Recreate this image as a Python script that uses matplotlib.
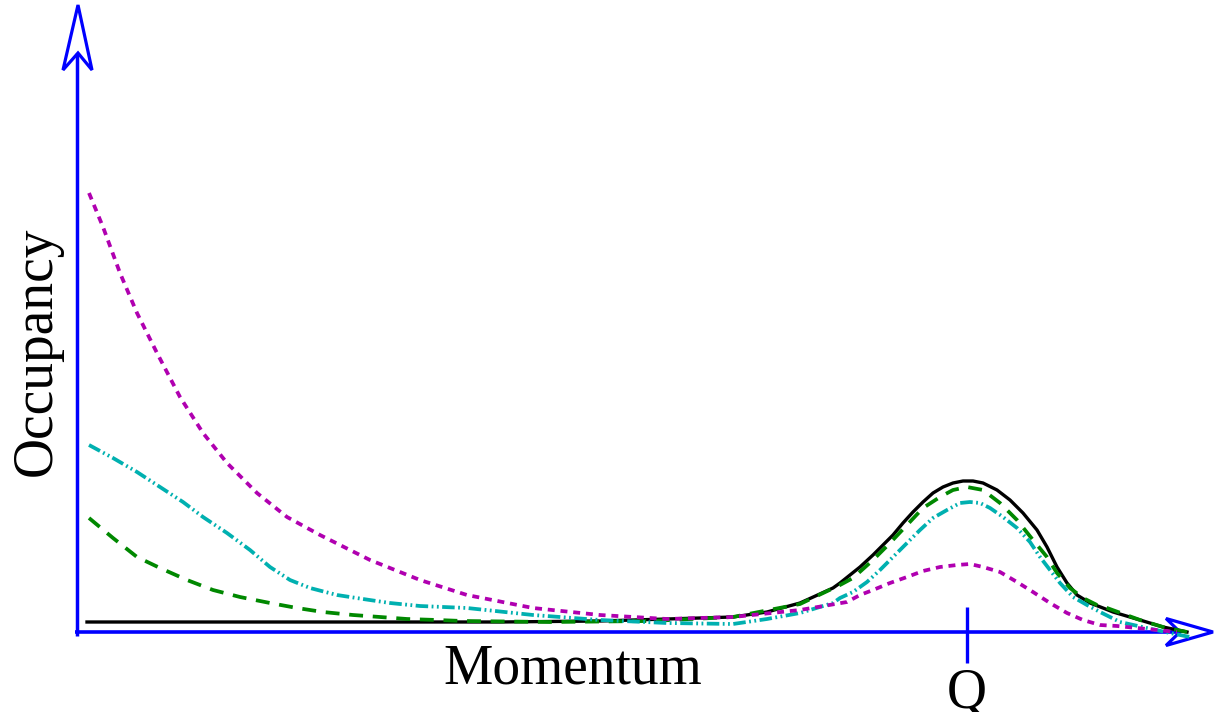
import matplotlib
matplotlib.use("Agg")
import matplotlib.pyplot as plt
from matplotlib.patches import Polygon

# ---- data (arbitrary units: momentum, occupancy) ----
q_position = 89.0
tick_label = "Q"
x_label = "Momentum"
y_label = "Occupancy"

black_x = [1.0, 22.3, 42.3, 52.3, 59.0, 65.6, 69.0, 72.3, 75.6, 76.3, 77.3, 78.3, 79.6, 80.6,
           81.6, 82.6, 83.6, 84.6, 85.6, 86.6, 87.6, 88.6, 89.6, 90.6, 92.0, 93.3, 94.6, 96.0,
           97.0, 98.0, 99.0, 100.0, 101.3, 102.6, 103.6, 106.3, 108.6, 111.0]
black_y = [1.0, 1.0, 1.0, 1.1, 1.3, 1.5, 2.0, 2.9, 4.4, 4.9, 5.7, 6.5, 7.7, 8.7,
           9.7, 10.9, 12.0, 13.0, 13.9, 14.5, 14.9, 15.1, 15.1, 14.9, 14.2, 13.2, 11.9, 10.2,
           8.5, 6.5, 4.9, 3.7, 2.9, 2.4, 2.0, 1.2, 0.5, 0.0]

green_x = [1.2, 3.6, 6.0, 8.3, 11.0, 13.6, 16.3, 19.3, 22.0, 24.6, 27.6, 30.3, 33.0, 36.0, 38.6,
           47.3, 57.3, 65.6, 72.3, 76.3, 77.6, 79.6, 81.3, 83.0, 84.6, 86.3, 87.6, 89.0, 90.6,
           92.3, 94.0, 95.6, 97.0, 98.0, 99.3, 100.6, 102.0, 103.0, 106.3, 108.6, 111.0]
green_y = [11.4, 9.4, 7.5, 6.4, 5.2, 4.2, 3.5, 2.9, 2.4, 2.0, 1.7, 1.5, 1.3, 1.2, 1.1,
           1.0, 1.1, 1.5, 2.8, 4.7, 5.4, 7.2, 8.9, 10.7, 12.4, 13.5, 14.2, 14.5, 14.2,
           12.9, 11.2, 9.2, 7.5, 5.9, 4.4, 3.4, 2.7, 2.4, 1.2, 0.5, 0.0]

cyan_x = [1.2, 3.6, 6.0, 8.3, 10.6, 12.6, 15.0, 17.3, 19.3, 21.3, 23.3, 26.0, 28.6, 31.3, 34.3,
          39.0, 45.6, 52.3, 59.0, 65.6, 69.0, 72.3, 75.6, 76.3, 77.6, 79.0, 80.3, 81.6, 83.0,
          84.3, 85.6, 87.0, 88.3, 89.3, 90.3, 91.3, 92.6, 94.0, 95.3, 96.3, 97.3, 98.3, 99.6,
          101.0, 102.3, 104.3, 107.0, 109.3, 111.3]
cyan_y = [18.7, 17.4, 16.0, 14.5, 13.0, 11.5, 9.9, 8.2, 6.5, 5.2, 4.4, 3.7, 3.3, 2.9, 2.6,
          2.4, 1.7, 1.2, 0.9, 0.8, 1.3, 1.9, 2.9, 3.4, 4.0, 5.0, 6.2, 7.5, 8.9,
          10.2, 11.4, 12.2, 12.9, 13.0, 12.9, 12.4, 11.5, 10.4, 9.0, 7.5, 6.2, 4.9, 3.5,
          2.7, 2.0, 1.0, 0.4, -0.1, -0.5]

magenta_x = [1.2, 2.6, 4.3, 6.0, 8.0, 10.3, 12.6, 15.0, 18.0, 21.0, 24.3, 29.3, 34.3, 39.0,
             45.6, 52.3, 59.0, 65.6, 72.3, 77.0, 78.3, 79.6, 81.3, 83.0, 84.6, 86.3, 88.0,
             89.3, 90.6, 92.3, 94.0, 95.6, 97.3, 99.0, 100.6, 102.3, 104.0, 107.0, 110.0]
magenta_y = [43.9, 40.5, 35.9, 31.9, 27.9, 23.5, 19.9, 16.9, 13.9, 11.5, 9.7, 7.2, 5.2, 3.7,
             2.4, 1.7, 1.3, 1.5, 2.2, 3.0, 3.7, 4.2, 4.9, 5.5, 6.1, 6.5, 6.7,
             6.8, 6.5, 6.0, 5.0, 4.0, 2.9, 1.9, 1.2, 0.7, 0.6, 0.3, 0.0]

plt.rcParams['lines.scale_dashes'] = False

fig = plt.figure(figsize=(12.14, 7.12), dpi=100)
ax = fig.add_axes([0, 0, 1, 1])
ax.set_xlim(-7.7, 113.7)
ax.set_ylim(-8.0, 63.2)
ax.axis('off')

blue = '#0000ff'
# axes lines
ax.plot([-0.2, 0, 110.3], [0, 0, 0], color=blue, lw=2.6, solid_capstyle='butt', zorder=1)
ax.plot([0, 0], [-0.4, 57.9], color=blue, lw=2.5, solid_capstyle='butt', zorder=1)
# arrowheads (open)
ax.add_patch(Polygon([[0.1, 62.7], [-1.4, 56.2], [0.1, 57.9], [1.5, 56.2]], closed=True,
                     fill=False, edgecolor=blue, lw=2.3, joinstyle='miter', zorder=1))
ax.add_patch(Polygon([[113.6, 0.0], [108.9, 1.35], [110.3, 0.0], [108.9, -1.35]], closed=True,
                     fill=False, edgecolor=blue, lw=2.3, joinstyle='miter', zorder=1))
# tick at Q
ax.plot([q_position, q_position], [2.5, -3.1], color=blue, lw=2.4, solid_capstyle='butt', zorder=1)

# curves
ax.plot(black_x, black_y, color='black', lw=2.4, zorder=3, solid_joinstyle='round')
l1, = ax.plot(green_x, green_y, color='#008800', lw=2.7, zorder=4)
l1.set_dashes([10, 7])
l2, = ax.plot(cyan_x, cyan_y, color='#00b0b0', lw=2.7, zorder=5)
l2.set_dashes([9, 2.5, 1.3, 2.5, 1.3, 2.5])
l3, = ax.plot(magenta_x, magenta_y, color='#b000b0', lw=2.7, zorder=6)
l3.set_dashes([5, 4.2])

font = dict(family='Liberation Serif', size=40)
ax.text(49.6, -5.1, x_label, ha='center', va='baseline', **font)
ax.text(-4.0, 28.1, y_label, ha='center', va='center', rotation=90, **font)
ax.text(q_position, -7.6, tick_label, ha='center', va='baseline', **font)

fig.savefig('out.png', dpi=100)
